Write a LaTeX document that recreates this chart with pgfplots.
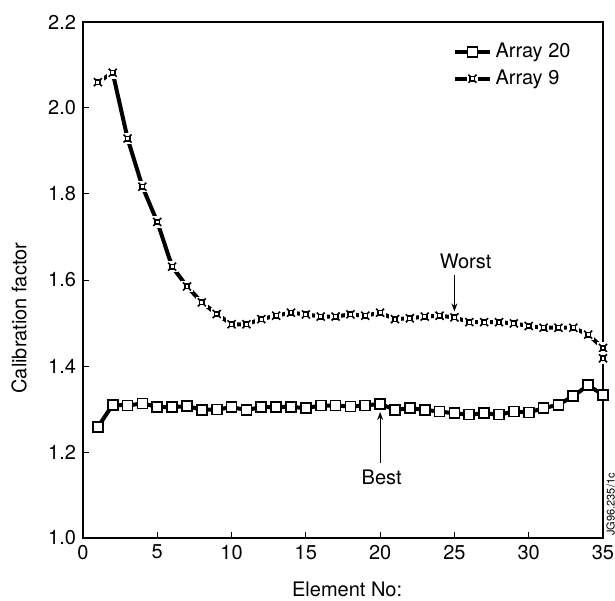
\documentclass[border=0pt]{standalone}
\usepackage{fontspec}
\setmainfont{TeX Gyre Heros}
\usepackage{pgfplots}
\pgfplotsset{compat=1.18}
\usetikzlibrary{arrows.meta}

% box with corner stubs, with a white halo round it
\pgfdeclareplotmark{crossbox}{%
  \pgfpathrectangle{\pgfpoint{-1.45\pgfplotmarksize}{-1.45\pgfplotmarksize}}{\pgfpoint{2.9\pgfplotmarksize}{2.9\pgfplotmarksize}}%
  \pgfsetfillcolor{white}\pgfusepathqfill
  \pgfpathrectangle{\pgfpoint{-0.55\pgfplotmarksize}{-0.55\pgfplotmarksize}}{\pgfpoint{1.1\pgfplotmarksize}{1.1\pgfplotmarksize}}%
  \pgfusepathqfillstroke
  \pgfpathmoveto{\pgfpoint{0.55\pgfplotmarksize}{0.55\pgfplotmarksize}}\pgfpathlineto{\pgfpoint{\pgfplotmarksize}{\pgfplotmarksize}}%
  \pgfpathmoveto{\pgfpoint{-0.55\pgfplotmarksize}{0.55\pgfplotmarksize}}\pgfpathlineto{\pgfpoint{-\pgfplotmarksize}{\pgfplotmarksize}}%
  \pgfpathmoveto{\pgfpoint{0.55\pgfplotmarksize}{-0.55\pgfplotmarksize}}\pgfpathlineto{\pgfpoint{\pgfplotmarksize}{-\pgfplotmarksize}}%
  \pgfpathmoveto{\pgfpoint{-0.55\pgfplotmarksize}{-0.55\pgfplotmarksize}}\pgfpathlineto{\pgfpoint{-\pgfplotmarksize}{-\pgfplotmarksize}}%
  \pgfusepathqstroke
}

\begin{document}
\begin{tikzpicture}
\useasboundingbox (-41.5pt,-31pt) rectangle (266pt,269pt);
\begin{axis}[
  at={(0,0)}, anchor=south west,
  scale only axis,
  width=260pt, height=258pt,
  xmin=0, xmax=35, ymin=1.0, ymax=2.2,
  xtick={0,5,...,35},
  ytick={1.0,1.2,1.4,1.6,1.8,2.0,2.2},
  yticklabel style={/pgf/number format/.cd, fixed, fixed zerofill, precision=1},
  /pgf/number format/assume math mode=true,
  tick align=inside, tick pos=left,
  major tick length=3pt,
  axis line style={line width=0.6pt},
  tick style={black, line width=0.5pt},
  tick label style={font=\fontsize{10}{12}\selectfont},
  xlabel={Element No:},
  ylabel={Calibration factor},
  label style={font=\fontsize{10}{12}\selectfont},
  xlabel style={at={(axis description cs:0.508,-0.10)}, anchor=center},
  ylabel style={at={(axis description cs:-0.123,0.426)}, anchor=center},
  legend style={draw=none, fill=none, at={(rel axis cs:0.70,0.975)}, anchor=north west,
    font=\fontsize{10}{12}\selectfont, row sep=0.5pt},
  legend cell align=left,
  clip=false,
]
\addplot[black, line width=2pt, mark=square*, mark size=2.5pt,
  mark options={fill=white, line width=0.9pt}] coordinates {
  (1,1.258) (2,1.310) (3,1.308) (4,1.313) (5,1.305) (6,1.304) (7,1.307)
  (8,1.298) (9,1.299) (10,1.304) (11,1.298) (12,1.304) (13,1.305) (14,1.305)
  (15,1.302) (16,1.308) (17,1.308) (18,1.306) (19,1.308) (20,1.312) (21,1.298)
  (22,1.302) (23,1.298) (24,1.294) (25,1.290) (26,1.287) (27,1.290) (28,1.287)
  (29,1.294) (30,1.292) (31,1.302) (32,1.310) (33,1.330) (34,1.355) (35,1.333)
};
\addlegendentry{Array 20}

\addplot[black, line width=2pt, mark=crossbox, mark size=2pt,
  mark options={fill=white, line width=0.8pt}] coordinates {
  (1,2.060) (2,2.082) (3,1.929) (4,1.817) (5,1.735) (6,1.631) (7,1.585)
  (8,1.548) (9,1.521) (10,1.497) (11,1.497) (12,1.509) (13,1.517) (14,1.524)
  (15,1.520) (16,1.515) (17,1.515) (18,1.520) (19,1.517) (20,1.524) (21,1.509)
  (22,1.511) (23,1.515) (24,1.517) (25,1.513) (26,1.502) (27,1.502) (28,1.502)
  (29,1.499) (30,1.493) (31,1.489) (32,1.489) (33,1.489) (34,1.473) (35,1.442)
  (35,1.418)
};
\addlegendentry{Array 9}

\draw[-{Stealth[length=4pt,width=3pt]}, line width=0.5pt] (axis cs:25,1.611) -- (axis cs:25,1.527);
\node[anchor=base, font=\fontsize{10}{12}\selectfont] at (axis cs:25.75,1.627) {Worst};
\draw[-{Stealth[length=4pt,width=3pt]}, line width=0.5pt] (axis cs:20,1.174) -- (axis cs:20,1.293);
\node[anchor=base, font=\fontsize{10}{12}\selectfont] at (axis cs:20.1,1.125) {Best};
\node[rotate=90, anchor=north west, inner sep=0pt, font=\fontsize{5.5}{6}\selectfont]
  at ([xshift=1.5pt,yshift=1pt]rel axis cs:1,0) {JG96.235/1c};
\end{axis}
\end{tikzpicture}
\end{document}
